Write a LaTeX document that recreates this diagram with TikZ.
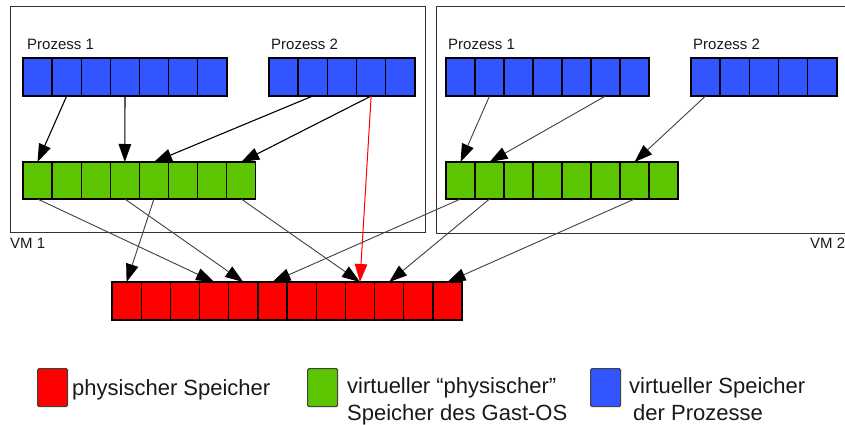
\documentclass[tikz,border=0pt]{standalone}
\usepackage{fontspec}
\setmainfont{Liberation Sans}
\usetikzlibrary{arrows.meta}
\definecolor{memblue}{RGB}{51,85,255}
\definecolor{memgreen}{RGB}{92,196,0}
\definecolor{memred}{RGB}{255,0,0}
\begin{document}
\begin{tikzpicture}[x=1pt,y=-1pt,
  cell/.style={draw=black,line width=1.3pt,minimum height=38pt,inner sep=0pt,outer sep=0pt,anchor=north west},
  bcell/.style={cell,fill=memblue,minimum width=29.1pt},
  gcell/.style={cell,fill=memgreen,minimum width=29.1pt,minimum height=37pt},
  rcell/.style={cell,fill=memred,minimum width=29.17pt},
  vmbox/.style={draw=black!80,line width=1pt,inner sep=0pt,outer sep=0pt,anchor=north west},
  lbl/.style={inner sep=0pt,anchor=base west,font=\fontsize{15}{18}\selectfont,text=black!90},
  leg/.style={inner sep=0pt,anchor=base west,font=\fontsize{22}{27}\selectfont,text=black!90},
  legbox/.style={draw=black!75,line width=1.2pt,rounded corners=1.5pt,minimum width=30pt,minimum height=38pt,inner sep=0pt,anchor=north west},
  arr/.style={draw=black!75,line width=0.9pt,-{Triangle[length=18pt,width=12.5pt,color=black]}},
  arrL/.style={draw=black,line width=1.1pt,-{Triangle[length=18pt,width=12.5pt,color=black]}},
  rarr/.style={draw=memred,line width=1pt,-{Triangle[length=18pt,width=12.5pt]}}
]
\useasboundingbox (0,0) rectangle (845,425);
\clip (0,0) rectangle (845,425);
\fill[white] (0,0) rectangle (845,425);

% VM boxes
\node[vmbox,minimum width=415pt,minimum height=225pt] (vm1) at (10,7) {};
\node[vmbox,minimum width=430pt,minimum height=226pt] (vm2) at (436,7) {};
\node[lbl] (vm1lbl) at (10,248) {VM 1};
\node[lbl] (vm2lbl) at (810,248) {VM 2};

% labels
\node[lbl] (l1p1) at (27,50) {Prozess 1};
\node[lbl] (l1p2) at (271,50) {Prozess 2};
\node[lbl] (r1p1) at (448,50) {Prozess 1};
\node[lbl] (r1p2) at (693,50) {Prozess 2};

% VM1 cells
\foreach \i in {1,...,7} \node[bcell] (LA\i) at ({23+(\i-1)*29.14},58) {};
\foreach \i in {1,...,5} \node[bcell] (LB\i) at ({269+(\i-1)*29.2},58) {};
\foreach \i in {1,...,8} \node[gcell] (LG\i) at ({23+(\i-1)*29.1},162) {};
% VM2 cells
\foreach \i in {1,...,7} \node[bcell] (RA\i) at ({446+(\i-1)*29},58) {};
\foreach \i in {1,...,5} \node[bcell] (RB\i) at ({691+(\i-1)*29.2},58) {};
\foreach \i in {1,...,8} \node[gcell] (RG\i) at ({446+(\i-1)*29},162) {};
% physical memory
\foreach \i in {1,...,12} \node[rcell] (P\i) at ({112+(\i-1)*29.17},282) {};

% VM1 process -> guest
\draw[arrL] (LA2.south) -- (LG1.north);
\draw[arrL] (LA4.south) -- (LG4.north);
\draw[arrL] (LB2.south) -- (LG5.north);
\draw[arrL] (LB4.south) -- (LG8.north);
% VM2 process -> guest
\draw[arr] (RA2.south) -- (RG1.north);
\draw[arr] (RA6.south) -- (RG2.north);
\draw[arr] (RB1.south) -- (RG7.north);
% guest -> physical
\draw[arr] (LG1.south) -- (P4.north);
\draw[arr] (LG4.south) -- (P5.north);
\draw[arr] (LG5.south) -- (P1.north);
\draw[arr] (LG8.south) -- (P9.north);
\draw[arr] (RG1.south) -- (P6.north);
\draw[arr] (RG2.south) -- (P10.north);
\draw[arr] (RG7.south) -- (P12.north);
% direct (red)
\draw[rarr] (LB4.south) -- (P9.north);

% legend
\node[legbox,fill=memred] (kr) at (37,368) {};
\node[leg] (tr) at (72,395) {physischer Speicher};
\node[legbox,fill=memgreen] (kg) at (307,368) {};
\node[leg] (tg1) at (347,393) {virtueller “physischer”};
\node[leg] (tg2) at (347,420) {Speicher des Gast-OS};
\node[legbox,fill=memblue] (kb) at (590,368) {};
\node[leg] (tb1) at (629,393) {virtueller Speicher};
\node[leg] (tb2) at (633,420) {der Prozesse};
\end{tikzpicture}
\end{document}
